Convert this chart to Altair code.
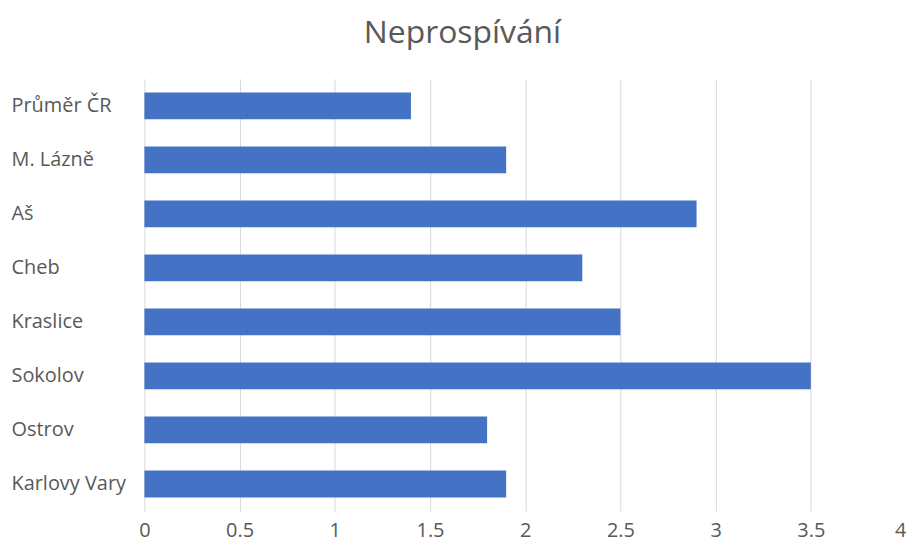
import altair as alt
import pandas as pd

categories = ["Průměr ČR", "M. Lázně", "Aš", "Cheb", "Kraslice", "Sokolov", "Ostrov", "Karlovy Vary"]
values = [1.4, 1.9, 2.9, 2.3, 2.5, 3.5, 1.8, 1.9]
x_ticks = [0, 0.5, 1, 1.5, 2, 2.5, 3, 3.5, 4]

df = pd.DataFrame({"kategorie": categories, "hodnota": values})

FONT = "Open Sans"
TXT = "#595959"

chart = (
    alt.Chart(df)
    .mark_bar(color="#4472C4", size=27)
    .encode(
        x=alt.X(
            "hodnota:Q",
            scale=alt.Scale(domain=[0, 4], nice=False),
            axis=alt.Axis(
                values=x_ticks,
                format=".1~f",
                title=None,
                grid=True,
                gridColor="#d9d9d9",
                gridWidth=1,
                domain=False,
                ticks=False,
                tickSize=0,
                labelFont=FONT,
                labelFontSize=20,
                labelColor=TXT,
                labelPadding=10,
                labelFlush=False,
                labelAlign=alt.expr("datum.value == 4 ? 'right' : 'center'"),
            ),
        ),
        y=alt.Y(
            "kategorie:N",
            sort=categories,
            axis=alt.Axis(
                title=None,
                domain=False,
                ticks=False,
                tickSize=0,
                grid=False,
                labelAlign="left",
                labelPadding=134,
                labelFont=FONT,
                labelFontSize=20,
                labelColor=TXT,
                labelLimit=200,
            ),
        ),
    )
    .properties(
        width=765,
        height=434,
        title=alt.TitleParams(
            text="Neprospívání",
            font=FONT,
            fontSize=32,
            fontWeight="normal",
            color=TXT,
            anchor="middle",
            frame="group",
            baseline="bottom",
            offset=28,
            dx=-63,
            dy=31,
        ),
        autosize=alt.AutoSizeParams(type="none"),
        padding={"left": 137, "top": 70, "right": 0, "bottom": 30},
    )
    .configure_view(stroke=None)
)

chart.save("out.html", embed_options={"renderer": "svg", "actions": False})
